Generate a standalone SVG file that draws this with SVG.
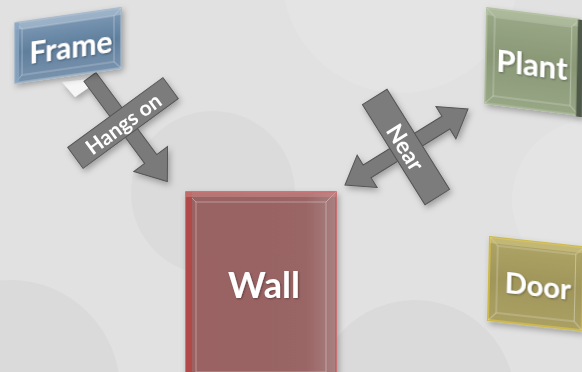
<svg xmlns="http://www.w3.org/2000/svg" width="582" height="372" viewBox="0 0 582 372">
<defs>
<filter id="sh" x="-20%" y="-20%" width="140%" height="140%"><feDropShadow dx="2" dy="3" stdDeviation="3" flood-color="#000" flood-opacity="0.3"/></filter>
<filter id="tsh" x="-20%" y="-20%" width="140%" height="140%"><feDropShadow dx="1" dy="1" stdDeviation="1" flood-color="#000" flood-opacity="0.35"/></filter>
<linearGradient id="gFrame" x1="0" y1="0" x2="0" y2="1"><stop offset="0" stop-color="#7f9bb7"/><stop offset="0.5" stop-color="#5f7f9d"/><stop offset="1" stop-color="#7892ad"/></linearGradient>
<linearGradient id="gPlant" x1="0" y1="0" x2="0" y2="1"><stop offset="0" stop-color="#9aa988"/><stop offset="0.5" stop-color="#8a9876"/><stop offset="1" stop-color="#97a685"/></linearGradient>
<linearGradient id="gDoor" x1="0" y1="0" x2="0" y2="1"><stop offset="0" stop-color="#aea466"/><stop offset="0.5" stop-color="#a0965a"/><stop offset="1" stop-color="#aaa064"/></linearGradient>
<linearGradient id="gWall" x1="0" y1="0" x2="1" y2="0"><stop offset="0" stop-color="#9a6262"/><stop offset="0.8" stop-color="#9a6565"/><stop offset="1" stop-color="#a98080"/></linearGradient>
</defs>
<style>
.txt{font-family:Lato,"Open Sans",sans-serif;font-weight:bold;fill:#fff;text-anchor:middle;dominant-baseline:central}
.arrow{fill:#7a7a7a;stroke:#555;stroke-width:1}
.bar{fill:#7c7c7c;stroke:#555;stroke-width:1}
.bev{fill:none;stroke:#ffffff;stroke-opacity:0.35;stroke-width:1}
</style>
<rect width="582" height="372" fill="#e1e1e1"/>
<g id="bg">
<circle cx="213" cy="193" r="82" fill="#dbdbdb"/>
<circle cx="10" cy="390" r="110" fill="#dadada"/>
<circle cx="415" cy="400" r="100" fill="#dadada"/>
<circle cx="400" cy="-25" r="118" fill="#e4e4e4"/>
<circle cx="592" cy="200" r="80" fill="#e4e4e4"/>
</g>
<g id="connectors">
<g id="hangs-on" filter="url(#sh)">
<polygon points="62,82 100,78 88,88 75,97" fill="#f6f6f6"/>
<g transform="translate(90,77) rotate(53.5)">
<polygon class="arrow" points="0,-7.5 102,-7.5 102,-21 130,0 102,21 102,7.5 0,7.5"/>
</g>
<g transform="translate(123,123) rotate(-36.2)">
<rect class="bar" x="-59" y="-13" width="118" height="26"/>
<text class="txt" x="0" y="0" font-size="21">Hangs on</text>
</g>
</g>
<g id="near" filter="url(#sh)">
<g transform="translate(345,185) rotate(-31.7)">
<polygon class="arrow" points="0,0 26,-19 26,-7.5 118.6,-7.5 118.6,-19 144.6,0 118.6,19 118.6,7.5 26,7.5 26,19"/>
</g>
<g transform="translate(406,147) rotate(58)">
<rect class="bar" x="-59" y="-14.5" width="118" height="29"/>
<text class="txt" x="0" y="0" font-size="23">Near</text>
</g>
</g>
</g>
<g id="frame" filter="url(#sh)" transform="matrix(1,-0.143,0,1,15,23)">
<rect x="0" y="0" width="106" height="60" fill="url(#gFrame)" stroke="#9db3c9" stroke-width="1.5"/>
<rect x="7" y="7" width="92" height="46" fill="#6a88a6" fill-opacity="0.5" class="bev"/>
<path class="bev" d="M0,0L7,7M106,0L99,7M0,60L7,53M106,60L99,53"/>
<rect x="0" y="0" width="106" height="7" fill="#c2d1de" fill-opacity="0.45"/>
<rect x="0" y="0" width="4" height="60" fill="#8aa5c0" fill-opacity="0.8"/>
<text class="txt" x="56" y="31" font-size="30" filter="url(#tsh)">Frame</text>
</g>
<g id="plant" filter="url(#sh)" transform="matrix(1,0.126,-0.021,1,487,8)">
<rect x="0" y="0" width="93" height="95" fill="url(#gPlant)" stroke="#a8b994" stroke-width="1.5"/>
<rect x="8" y="8" width="77" height="79" fill="#7f8e6c" fill-opacity="0.45" class="bev"/>
<path class="bev" d="M0,0L8,8M93,0L85,8M0,95L8,87M93,95L85,87"/>
<rect x="0" y="0" width="93" height="7" fill="#c8d4b8" fill-opacity="0.4"/>
<rect x="91" y="0" width="6" height="97" fill="#4f5848"/>
<text class="txt" x="46" y="50" font-size="31" filter="url(#tsh)">Plant</text>
</g>
<g id="door" filter="url(#sh)" transform="matrix(1,0.109,-0.024,1,490,237)">
<rect x="0" y="0" width="94" height="83" fill="url(#gDoor)" stroke="#cdb94c" stroke-width="2"/>
<rect x="8" y="8" width="78" height="67" fill="#978d52" fill-opacity="0.45" class="bev"/>
<path class="bev" d="M0,0L8,8M94,0L86,8M0,83L8,75M94,83L86,75"/>
<rect x="0" y="0" width="94" height="6" fill="#ddd08a" fill-opacity="0.45"/>
<text class="txt" x="49" y="43" font-size="29" filter="url(#tsh)">Door</text>
</g>
<g id="wall" filter="url(#sh)">
<rect x="186" y="192" width="150" height="186" fill="url(#gWall)" stroke="#c45c5c" stroke-width="1.5"/>
<rect x="196" y="202" width="130" height="170" fill="#946060" fill-opacity="0.4" class="bev"/>
<path class="bev" d="M186,192L196,202M336,192L326,202"/>
<rect x="186" y="192" width="6" height="186" fill="#b24a4a"/>
<rect x="186" y="192" width="150" height="5" fill="#d08a8a" fill-opacity="0.5"/>
<text class="txt" x="264" y="284" font-size="36" filter="url(#tsh)">Wall</text>
</g>
</svg>
